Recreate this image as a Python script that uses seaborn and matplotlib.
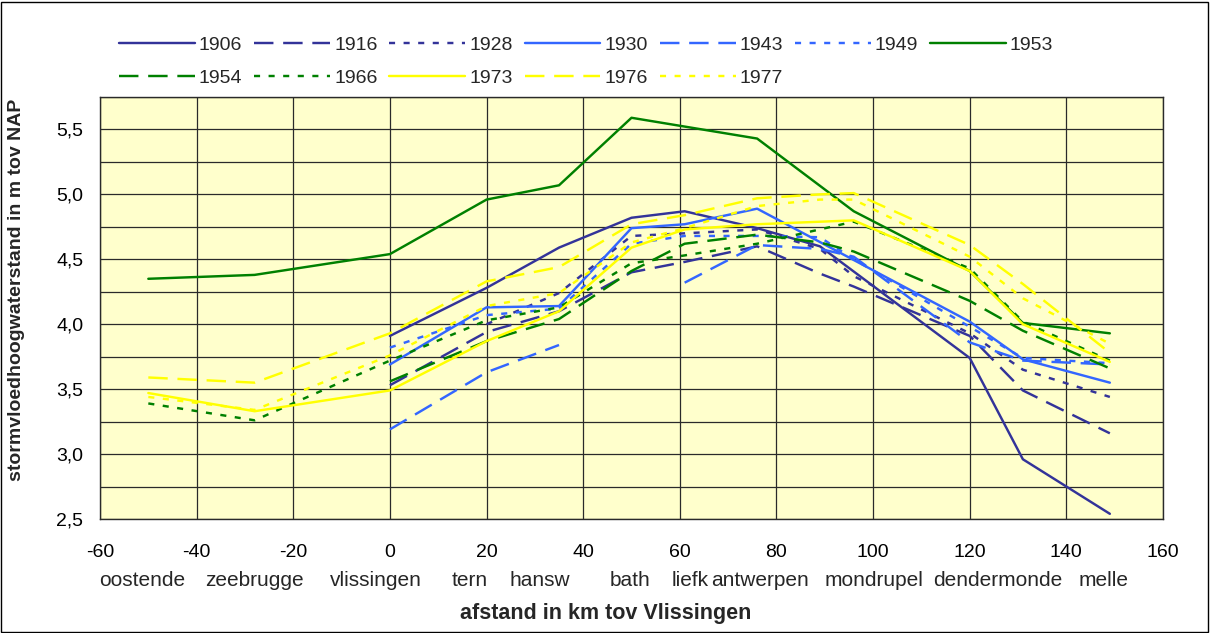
import numpy as np
import pandas as pd
import matplotlib
matplotlib.use("Agg")
import matplotlib.pyplot as plt
import matplotlib.transforms as mtransforms
from matplotlib.lines import Line2D
from matplotlib.patches import Rectangle
from matplotlib.ticker import MultipleLocator, FuncFormatter
import seaborn as sns

# ---------------- data ----------------
station_km = [-50, -28, 0, 20, 35, 50, 61, 76, 89, 96, 120, 131, 149]
N = None
y_1906 = [N, N, 3.91, 4.28, 4.59, 4.82, 4.87, 4.74, 4.60, N, 3.74, 2.96, 2.54]
y_1916 = [N, N, 3.53, 3.94, 4.10, 4.40, 4.48, 4.60, 4.39, 4.29, 3.91, 3.49, 3.16]
y_1928 = [N, N, N, 4.00, 4.24, 4.68, 4.70, 4.73, 4.58, 4.37, 3.93, 3.65, 3.44]
y_1930 = [N, N, 3.69, 4.13, 4.14, 4.74, 4.77, 4.89, N, N, 4.02, 3.73, 3.55]
y_1943 = [N, N, 3.19, 3.63, 3.84, N, 4.32, 4.61, 4.58, 4.52, 3.86, 3.72, 3.69]
y_1949 = [N, N, 3.82, 4.07, 4.12, 4.62, 4.68, 4.68, 4.67, 4.50, 3.98, 3.74, 3.70]
y_1953 = [4.35, 4.38, 4.54, 4.96, 5.07, 5.59, N, 5.43, N, 4.87, 4.41, 4.01, 3.93]
y_1954 = [N, N, 3.56, 3.87, 4.04, 4.41, 4.62, 4.69, 4.63, 4.56, 4.18, 3.95, 3.66]
y_1966 = [3.39, 3.26, 3.72, 4.03, 4.13, 4.47, 4.53, 4.62, N, 4.79, 4.43, 4.02, 3.72]
y_1973 = [3.47, 3.33, 3.49, 3.87, 4.10, 4.59, 4.73, 4.77, N, 4.80, 4.41, 4.00, 3.71]
y_1976 = [3.59, 3.55, 3.93, 4.33, 4.44, 4.77, 4.84, 4.97, 5.00, 5.01, 4.61, 4.31, 3.78]
y_1977 = [3.44, 3.34, 3.76, 4.14, 4.24, 4.63, 4.74, 4.91, 4.96, 4.96, 4.52, 4.20, 3.85]

years = ["1906", "1916", "1928", "1930", "1943", "1949", "1953",
         "1954", "1966", "1973", "1976", "1977"]
values = [y_1906, y_1916, y_1928, y_1930, y_1943, y_1949, y_1953,
          y_1954, y_1966, y_1973, y_1976, y_1977]
broken_series = ["1943"]  # missing value is a real gap in the line

place_names = ["oostende", "zeebrugge", "vlissingen", "tern", "hansw", "bath",
               "liefk", "antwerpen", "mondrupel", "dendermonde", "melle"]
place_label_x = [-51.3, -28.1, -2.9, 16.6, 31.1, 49.7, 62.1, 76.6, 100.2, 125.8, 147.8]

# ---------------- styles ----------------
NAVY, BLUE, GREEN, YELLOW = "#333399", "#3366FF", "#008000", "#FFFF00"
SOLID, DASH, DOT = "-", (0, (8, 4)), (0, (2.5, 3.5))
styles = {
    "1906": (NAVY, SOLID), "1916": (NAVY, DASH), "1928": (NAVY, DOT),
    "1930": (BLUE, SOLID), "1943": (BLUE, DASH), "1949": (BLUE, DOT),
    "1953": (GREEN, SOLID), "1954": (GREEN, DASH), "1966": (GREEN, DOT),
    "1973": (YELLOW, SOLID), "1976": (YELLOW, DASH), "1977": (YELLOW, DOT),
}
LW = 1.75

sns.set_style("white")
plt.rcParams["font.family"] = ["Liberation Sans", "DejaVu Sans"]
plt.rcParams["axes.unicode_minus"] = False
FS = 14

fig = plt.figure(figsize=(12.1, 6.33), dpi=100)
ax = fig.add_axes([100 / 1210, 1 - 519 / 633, 1063 / 1210, 422 / 633])
ax.set_facecolor("#FFFFCC")

x_arr = np.array(station_km, dtype=float)
for yr, vals in zip(years, values):
    col, ls = styles[yr]
    y_arr = np.array([np.nan if v is None else v for v in vals], dtype=float)
    if yr in broken_series:
        seg_x, seg_y = [], []
        segments = []
        for xv, yv in zip(x_arr, y_arr):
            if np.isnan(yv):
                if seg_x:
                    segments.append((seg_x, seg_y))
                seg_x, seg_y = [], []
            else:
                seg_x.append(xv); seg_y.append(yv)
        if seg_x:
            segments.append((seg_x, seg_y))
    else:
        m = ~np.isnan(y_arr)
        segments = [(x_arr[m], y_arr[m])]
    for sx, sy in segments:
        df = pd.DataFrame({"km": sx, "h": sy})
        sns.lineplot(data=df, x="km", y="h", ax=ax, color=col, linewidth=LW,
                     linestyle=ls, sort=False, estimator=None, legend=False)

ax.set_xlim(-60, 160)
ax.set_ylim(2.5, 5.75)
ax.xaxis.set_major_locator(MultipleLocator(20))
ax.yaxis.set_major_locator(MultipleLocator(0.5))
ax.yaxis.set_minor_locator(MultipleLocator(0.25))
ax.yaxis.set_major_formatter(FuncFormatter(lambda v, p: f"{v:.1f}".replace(".", ",")))
ax.grid(True, which="major", axis="both", color="#2a2a2a", linewidth=0.9)
ax.grid(True, which="minor", axis="y", color="#2a2a2a", linewidth=0.9)
ax.set_axisbelow(True)
for s in ax.spines.values():
    s.set_color("#2a2a2a")
    s.set_linewidth(1.0)
ax.tick_params(axis="x", which="both", length=0, pad=18, labelsize=FS, colors="black")
ax.tick_params(axis="y", which="major", length=0, pad=12, labelsize=FS, colors="black")
ax.tick_params(axis="y", which="minor", length=0)

ax.set_xlabel("afstand in km tov Vlissingen", fontsize=15.5, fontweight="bold")
ax.xaxis.set_label_coords(0.4755, (519 - 603) / 422)
ax.set_ylabel("stormvloedhoogwaterstand in m tov NAP", fontsize=14, fontweight="bold",
              va="center")
ax.yaxis.set_label_coords((17 - 100) / 1063, (519 - 290) / 422)

trans = mtransforms.blended_transform_factory(ax.transData, fig.transFigure)
for name, xp in zip(place_names, place_label_x):
    ax.text(xp, 1 - 581 / 633, name, transform=trans, ha="center", va="center",
            fontsize=15, clip_on=False)

# legend (row-wise order using column-major filling)
order = ["1906", "1954", "1916", "1966", "1928", "1973", "1930", "1976",
         "1943", "1977", "1949", "1953"]
handles = [Line2D([0], [0], color=styles[y][0], linestyle=styles[y][1], linewidth=LW)
           for y in order]
fig.legend(handles, order, ncol=7, loc="upper left",
           bbox_to_anchor=(119 / 1210, 1 - 36 / 633), frameon=False,
           handlelength=3.9, handletextpad=0.2, columnspacing=0.62,
           labelspacing=0.8, borderpad=0, borderaxespad=0, fontsize=FS)

fig.add_artist(Rectangle((1 / 1210, 1 / 633), 1207 / 1210, 630 / 633,
                         transform=fig.transFigure, fill=False,
                         edgecolor="black", linewidth=1.0))

fig.savefig("out.png", dpi=100)
